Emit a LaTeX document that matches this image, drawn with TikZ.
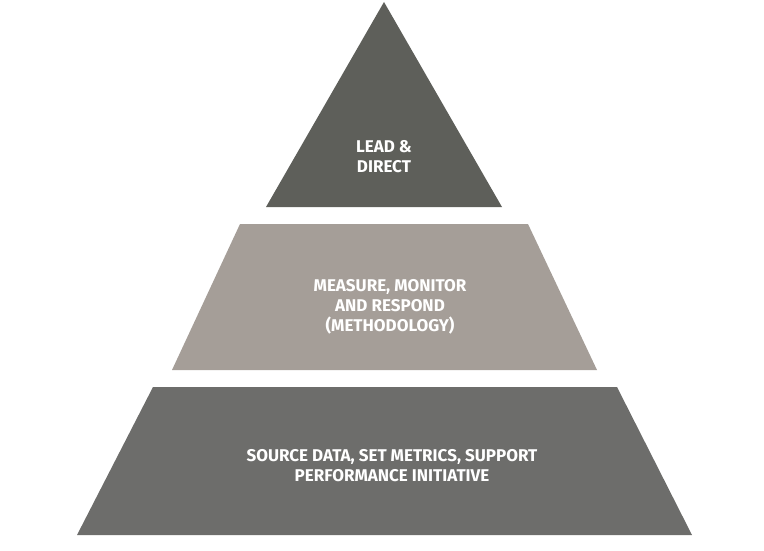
\documentclass[tikz,border=0pt]{standalone}
\usepackage{fontspec}
\setmainfont{Fira Sans}
\definecolor{topgray}{HTML}{5E5F5A}
\definecolor{midgray}{HTML}{A59E98}
\definecolor{lowgray}{HTML}{6D6D6B}
\begin{document}
\begin{tikzpicture}[
            x = 1pt, y = -1pt,
            tier/.style = {draw = none},
            label/.style = {text = white, align = center, font = \fontsize{17}{20}\selectfont\bfseries}
        ]
        \useasboundingbox (0,0) rectangle (764,551);

        % tiers
        \fill[tier, topgray] (384,2) -- (502,207) -- (266,207) -- cycle;
        \fill[tier, midgray] (240,224) -- (528,224) -- (597,370) -- (172,370) -- cycle;
        \fill[tier, lowgray] (153,387) -- (617,387) -- (692,535) -- (77,535) -- cycle;

        % texts
        \node[label] (lead) at (384,157) {LEAD \&\\DIRECT};
        \node[label] (measure) at (390,307) {MEASURE, MONITOR\\AND RESPOND\\(METHODOLOGY)};
        \node[label] (source) at (392,466) {SOURCE DATA, SET METRICS, SUPPORT\\PERFORMANCE INITIATIVE};
\end{tikzpicture}
\end{document}
